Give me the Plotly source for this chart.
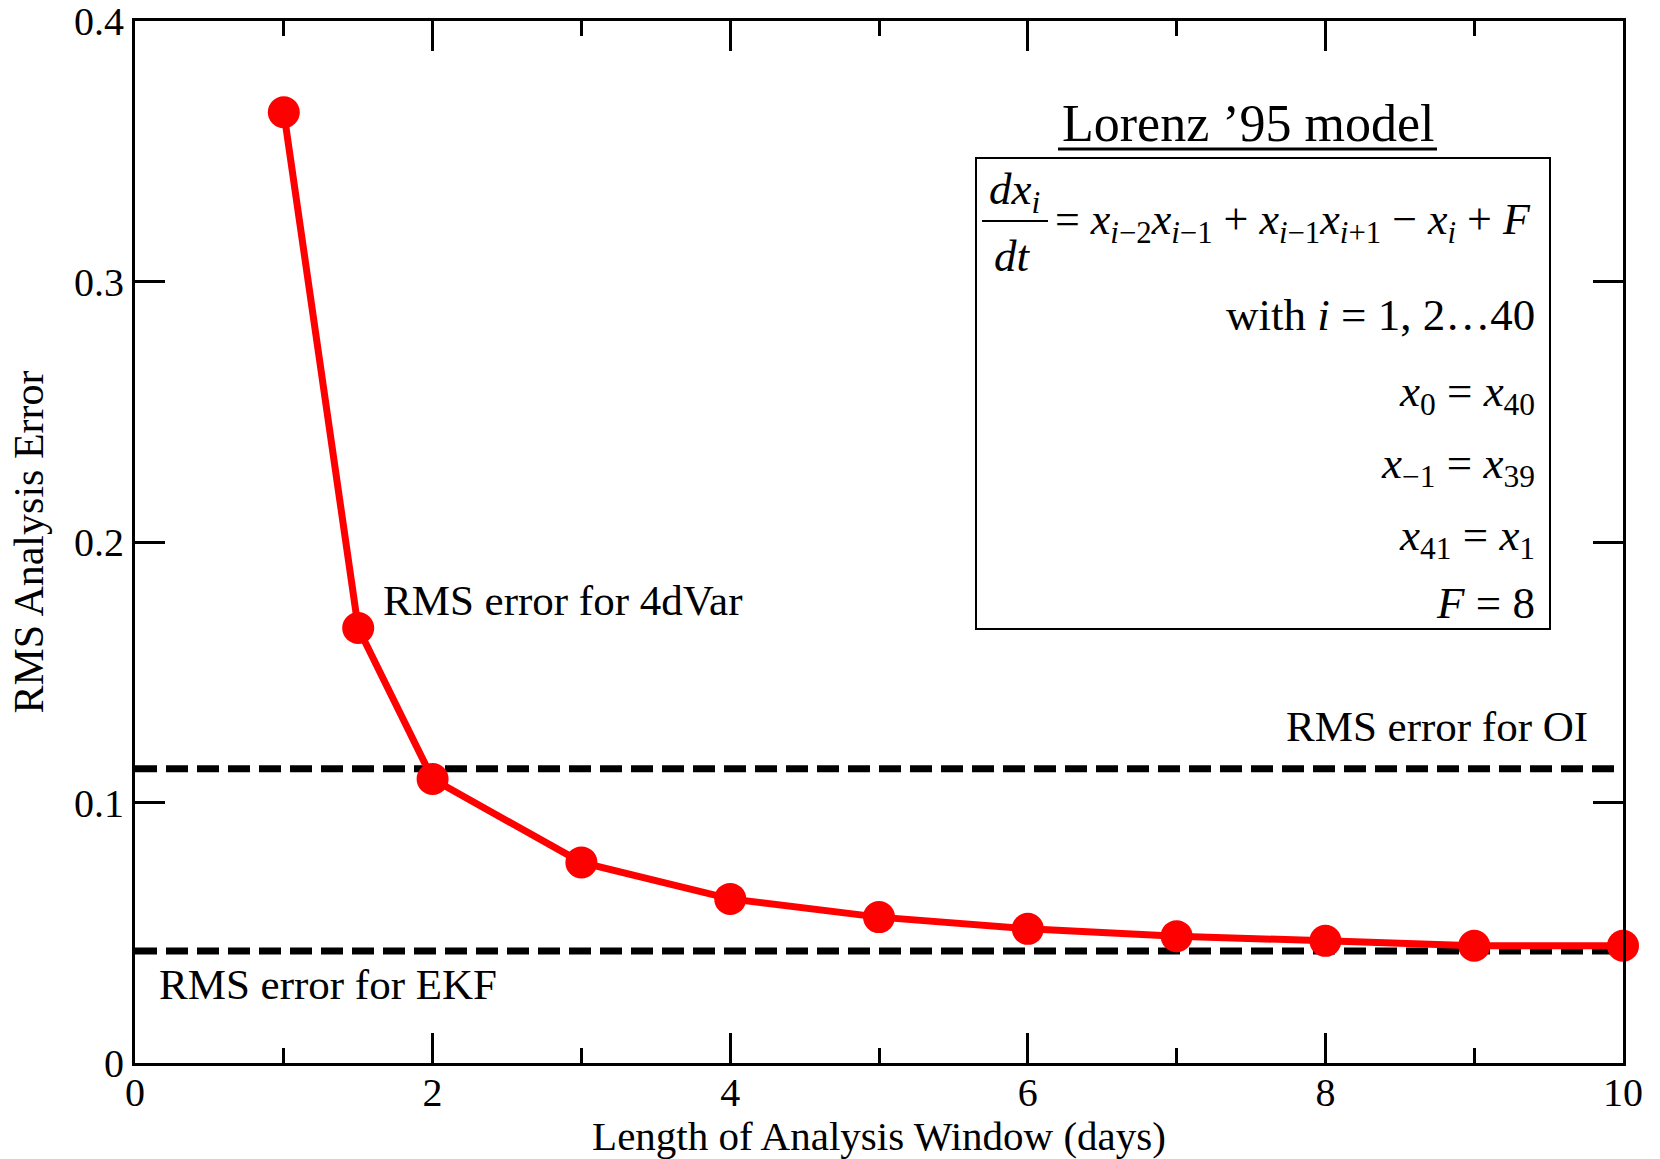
import plotly.graph_objects as go

# Analysis error of 4dVar as a function of assimilation window length
window_days = [1, 1.5, 2, 3, 4, 5, 6, 7, 8, 9, 10]
rms_4dvar = [0.365, 0.167, 0.109, 0.077, 0.063, 0.056, 0.0515, 0.0487, 0.0469, 0.0450, 0.0450]

# Reference error levels of the other schemes
rms_oi = 0.113
rms_ekf = 0.043

x_range = [0, 10]
x_ticks = [0, 2, 4, 6, 8, 10]
y_ticks = [0, 0.1, 0.2, 0.3, 0.4]
y_tick_text = ["0", "0.1", "0.2", "0.3", "0.4"]

FONT = "Liberation Serif, Times New Roman, serif"
W, H = 1660, 1159
L, R, T, B = 135, 37, 21, 96
PW, PH = W - L - R, H - T - B


def px(xp):
    return (xp - L) / PW


def py(yp):
    return (H - B - yp) / PH


fig = go.Figure()

fig.add_trace(go.Scatter(
    x=x_range, y=[rms_ekf, rms_ekf], mode="lines",
    line=dict(color="black", width=7, dash="22px,9px"),
    hoverinfo="skip", showlegend=False))
fig.add_trace(go.Scatter(
    x=x_range, y=[rms_oi, rms_oi], mode="lines",
    line=dict(color="black", width=7, dash="22px,9px"),
    hoverinfo="skip", showlegend=False))
fig.add_trace(go.Scatter(
    x=window_days, y=rms_4dvar, mode="lines+markers",
    line=dict(color="#ff0000", width=7),
    marker=dict(color="#ff0000", size=32, line=dict(width=0)),
    cliponaxis=False, showlegend=False))

axis_common = dict(
    showline=True, linecolor="black", linewidth=3, mirror="ticks",
    ticks="inside", tickcolor="black", tickwidth=3, ticklen=30,
    showgrid=False, zeroline=False, automargin=False,
    ticklabeloverflow="allow",
    tickfont=dict(family=FONT, size=40, color="black"),
)

fig.update_xaxes(
    range=x_range, tickvals=x_ticks, ticklabelstandoff=-8, **axis_common,
    minor=dict(ticks="inside", dtick=1, ticklen=15, tickwidth=3, tickcolor="black", showgrid=False),
    title=dict(text="Length of Analysis Window (days)",
               font=dict(family=FONT, size=41, color="black"), standoff=4),
)
fig.update_yaxes(
    range=[0, 0.40001], tickvals=y_ticks, ticktext=y_tick_text, **axis_common,
    title=dict(text="RMS Analysis Error",
               font=dict(family=FONT, size=42, color="black"), standoff=18),
)

ann = []


def text(x, y, s, size=42, xanchor="left"):
    ann.append(dict(x=px(x), y=py(y), xref="paper", yref="paper", text=s,
                    showarrow=False, xanchor=xanchor, yanchor="middle",
                    font=dict(family=FONT, size=size, color="black")))


text(381, 600, "RMS error for 4dVar", size=43)
text(157, 984, "RMS error for EKF", size=43)
text(1590, 727, "RMS error for OI", xanchor="right", size=43)
text(1248, 124, "Lorenz \u201995 model", size=52, xanchor="center")

# Lorenz '95 equations
text(1014, 192, "<i>dx</i><sub><i>i</i></sub>", size=45, xanchor="center")
text(1012, 256, "<i>dt</i>", size=45, xanchor="center")
text(1053, 222,
     "= <i>x</i><sub><i>i</i>\u22122</sub><i>x</i><sub><i>i</i>\u22121</sub> + "
     "<i>x</i><sub><i>i</i>\u22121</sub><i>x</i><sub><i>i</i>+1</sub> \u2212 "
     "<i>x</i><sub><i>i</i></sub> + <i>F</i>", size=44)
text(1537, 315, "with <i>i</i> = 1, 2\u202640", size=45, xanchor="right")
text(1537, 394, "<i>x</i><sub>0</sub> = <i>x</i><sub>40</sub>", size=45, xanchor="right")
text(1537, 466, "<i>x</i><sub>\u22121</sub> = <i>x</i><sub>39</sub>", size=45, xanchor="right")
text(1537, 538, "<i>x</i><sub>41</sub> = <i>x</i><sub>1</sub>", size=45, xanchor="right")
text(1537, 603, "<i>F</i> = 8", size=45, xanchor="right")

shapes = [
    # equation frame
    dict(type="rect", xref="paper", yref="paper", x0=px(976), x1=px(1550),
         y0=py(629), y1=py(158), line=dict(color="black", width=2)),
    # fraction bar
    dict(type="line", xref="paper", yref="paper", x0=px(982), x1=px(1048),
         y0=py(221), y1=py(221), line=dict(color="black", width=2)),
    # title underline
    dict(type="line", xref="paper", yref="paper", x0=px(1058), x1=px(1437),
         y0=py(149), y1=py(149), line=dict(color="black", width=3)),
]

fig.update_layout(
    width=W, height=H,
    margin=dict(l=L, r=R, t=T, b=B),
    paper_bgcolor="white", plot_bgcolor="white",
    annotations=ann, shapes=shapes,
    font=dict(family=FONT, color="black"),
)

fig.write_html("out.html")
